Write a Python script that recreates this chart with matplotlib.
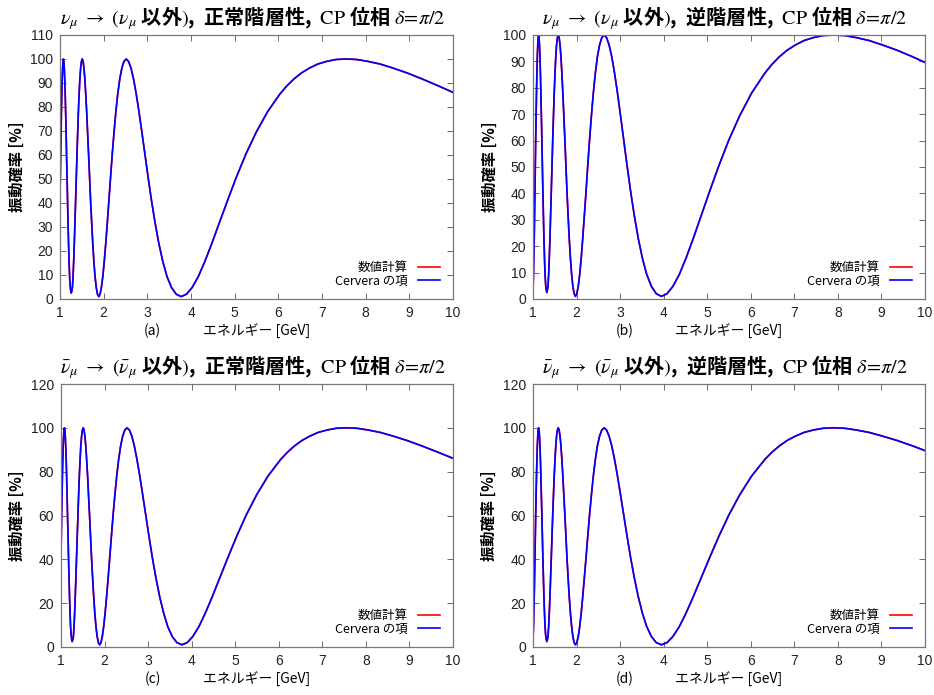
import matplotlib
matplotlib.use("Agg")
import matplotlib.pyplot as plt

plt.rcParams['font.family'] = ['Noto Sans CJK JP', 'DejaVu Sans']
plt.rcParams['mathtext.fontset'] = 'stix'

# エネルギー [GeV] と振動確率 [%] (正常階層性)
e_nh = [10.0, 9.664, 9.292, 8.948, 8.629, 8.331, 8.053, 7.794, 7.550, 7.321,
        7.106, 6.903, 6.711, 6.530, 6.358, 6.195, 6.040, 5.752, 5.491, 5.252,
        5.033, 4.832, 4.646, 4.474, 4.314, 4.166, 4.027, 3.897, 3.775, 3.661,
        3.553, 3.451, 3.356, 3.265, 3.179, 3.097, 3.020, 2.946, 2.876, 2.809,
        2.745, 2.684, 2.626, 2.570, 2.517, 2.465, 2.416, 2.369, 2.323, 2.279,
        2.237, 2.196, 2.157, 2.119, 2.083, 2.047, 2.013, 1.980, 1.948, 1.917,
        1.888, 1.858, 1.830, 1.803, 1.776, 1.751, 1.726, 1.701, 1.678, 1.655,
        1.632, 1.611, 1.589, 1.569, 1.549, 1.529, 1.510, 1.491, 1.473, 1.455,
        1.438, 1.421, 1.405, 1.389, 1.373, 1.357, 1.342, 1.327, 1.313, 1.299,
        1.285, 1.272, 1.258, 1.245, 1.233, 1.220, 1.208, 1.196, 1.184, 1.173,
        1.162, 1.150, 1.140, 1.129, 1.119, 1.108, 1.098, 1.088, 1.079, 1.069,
        1.060, 1.050, 1.041, 1.032, 1.024, 1.015, 1.007, 1.000]
p_nh = [86.1, 88.8, 91.7, 94.2, 96.2, 97.9, 99.0, 99.8, 100.0, 99.8,
        99.0, 97.9, 96.2, 94.2, 91.7, 88.8, 85.5, 78.0, 69.4, 60.2,
        50.5, 40.8, 31.6, 23.0, 15.5, 9.3, 4.8, 2.0, 1.0, 2.0,
        4.8, 9.3, 15.5, 23.0, 31.6, 40.8, 50.5, 60.2, 69.4, 78.0,
        85.5, 91.7, 96.2, 99.0, 100.0, 99.0, 96.2, 91.7, 85.5, 78.0,
        69.4, 60.2, 50.5, 40.8, 31.6, 23.0, 15.5, 9.3, 4.8, 2.0,
        1.0, 2.0, 4.8, 9.3, 15.5, 23.0, 31.6, 40.8, 50.5, 60.2,
        69.4, 78.0, 85.5, 91.7, 96.2, 99.0, 100.0, 99.0, 96.2, 91.7,
        85.5, 78.0, 69.4, 60.2, 50.5, 40.8, 31.6, 23.0, 15.5, 9.3,
        4.8, 3.5, 2.5, 3.5, 5.5, 9.3, 15.5, 23.0, 31.6, 40.8,
        50.5, 60.2, 69.4, 78.0, 85.5, 91.7, 96.2, 99.0, 100.0, 99.0,
        96.2, 91.7, 85.5, 78.0, 69.4, 60.2, 50.5, 42.7]

# 逆階層性
e_ih = [10.0, 9.723, 9.363, 9.029, 8.717, 8.427, 8.155, 7.900, 7.661, 7.435,
        7.223, 7.022, 6.832, 6.653, 6.482, 6.320, 6.019, 5.745, 5.496, 5.267,
        5.056, 4.862, 4.681, 4.514, 4.359, 4.213, 4.077, 3.950, 3.830, 3.718,
        3.611, 3.511, 3.416, 3.326, 3.241, 3.160, 3.083, 3.010, 2.940, 2.873,
        2.809, 2.748, 2.689, 2.633, 2.580, 2.528, 2.478, 2.431, 2.385, 2.341,
        2.298, 2.257, 2.218, 2.179, 2.142, 2.107, 2.072, 2.039, 2.006, 1.975,
        1.945, 1.915, 1.887, 1.859, 1.832, 1.806, 1.780, 1.756, 1.732, 1.708,
        1.685, 1.663, 1.642, 1.621, 1.600, 1.580, 1.560, 1.541, 1.523, 1.505,
        1.487, 1.470, 1.453, 1.436, 1.420, 1.404, 1.389, 1.374, 1.359, 1.345,
        1.331, 1.317, 1.303, 1.290, 1.277, 1.264, 1.251, 1.239, 1.227, 1.215,
        1.204, 1.192, 1.181, 1.170, 1.160, 1.149, 1.139, 1.129, 1.119, 1.109,
        1.099, 1.090, 1.080, 1.071, 1.062, 1.053, 1.045, 1.036, 1.028, 1.019,
        1.011, 1.003, 1.000]
p_ih = [89.6, 91.7, 94.2, 96.2, 97.9, 99.0, 99.8, 100.0, 99.8, 99.0,
        97.9, 96.2, 94.2, 91.7, 88.8, 85.5, 78.0, 69.4, 60.2, 50.5,
        40.8, 31.6, 23.0, 15.5, 9.3, 4.8, 2.0, 1.0, 2.0, 4.8,
        9.3, 15.5, 23.0, 31.6, 40.8, 50.5, 60.2, 69.4, 78.0, 85.5,
        91.7, 96.2, 99.0, 100.0, 99.0, 96.2, 91.7, 85.5, 78.0, 69.4,
        60.2, 50.5, 40.8, 31.6, 23.0, 15.5, 9.3, 4.8, 2.0, 1.0,
        2.0, 4.8, 9.3, 15.5, 23.0, 31.6, 40.8, 50.5, 60.2, 69.4,
        78.0, 85.5, 91.7, 96.2, 99.0, 100.0, 99.0, 96.2, 91.7, 85.5,
        78.0, 69.4, 60.2, 50.5, 40.8, 31.6, 23.0, 15.5, 9.3, 4.8,
        3.5, 2.5, 3.5, 5.5, 9.3, 15.5, 23.0, 31.6, 40.8, 50.5,
        60.2, 69.4, 78.0, 85.5, 91.7, 96.2, 99.0, 100.0, 99.0, 96.2,
        91.7, 85.5, 78.0, 69.4, 60.2, 50.5, 40.8, 31.6, 23.0, 15.5,
        9.3, 4.8, 3.4]

titles = [
    r"$\nu_\mu\ \rightarrow\ (\nu_\mu$ 以外$)$,  正常階層性,  $\mathrm{CP}$ 位相 $\delta\!=\!\pi/2$",
    r"$\nu_\mu\ \rightarrow\ (\nu_\mu$ 以外$)$,  逆階層性,  $\mathrm{CP}$ 位相 $\delta\!=\!\pi/2$",
    r"$\bar{\nu}_\mu\ \rightarrow\ (\bar{\nu}_\mu$ 以外$)$,  正常階層性,  $\mathrm{CP}$ 位相 $\delta\!=\!\pi/2$",
    r"$\bar{\nu}_\mu\ \rightarrow\ (\bar{\nu}_\mu$ 以外$)$,  逆階層性,  $\mathrm{CP}$ 位相 $\delta\!=\!\pi/2$",
]
panel_tags = ["(a)", "(b)", "(c)", "(d)"]
y_tops = [110, 100, 120, 120]
y_steps = [10, 10, 20, 20]

W, H = 934, 695
fig = plt.figure(figsize=(W / 100, H / 100), dpi=100)

# 軸の位置 (ピクセル): left, right, top, bottom
boxes = [(60, 453, 35, 299), (533, 925, 35, 299),
         (61, 453, 384, 647), (533, 925, 384, 647)]
datos = [(e_nh, p_nh), (e_ih, p_ih), (e_nh, p_nh), (e_ih, p_ih)]

tick_font = {'family': 'Liberation Sans', 'size': 10}

for i in range(4):
    l, r, t, b = boxes[i]
    ax = fig.add_axes([l / W, (H - b) / H, (r - l) / W, (b - t) / H])
    e, p = datos[i]
    ax.plot(e, p, color='#ff0000', lw=1.2, label='数値計算')
    ax.plot(e, p, color='#0000ff', lw=1.2, label='Cervera の項')
    ax.set_xlim(1, 10)
    ax.set_ylim(0, y_tops[i])
    ax.set_xticks(range(1, 11))
    ax.set_yticks(range(0, y_tops[i] + 1, y_steps[i]))
    ax.tick_params(direction='in', top=True, right=True, length=4,
                   width=0.6, color='#555555', labelcolor='#222222', pad=5)
    for lab in ax.get_xticklabels() + ax.get_yticklabels():
        lab.set_fontproperties(tick_font)
    for sp in ax.spines.values():
        sp.set_color('#777777')
        sp.set_linewidth(0.9)
    ax.set_title(titles[i], fontsize=14.5, fontweight='bold', pad=8,
                 x=0.49)
    ax.set_ylabel('振動確率 [%]', fontsize=11, fontweight='bold', labelpad=4)
    ax.set_xlabel('エネルギー [GeV]', fontsize=10, labelpad=2)
    ax.text(0.235, -0.12, panel_tags[i], transform=ax.transAxes,
            fontsize=10, ha='center', va='center')
    ax.legend(loc='lower right', frameon=False, markerfirst=False,
              fontsize=9, handlelength=1.8, labelspacing=0.05,
              borderaxespad=0.3, bbox_to_anchor=(0.99, 0.01))

fig.savefig('out.png', dpi=100)
